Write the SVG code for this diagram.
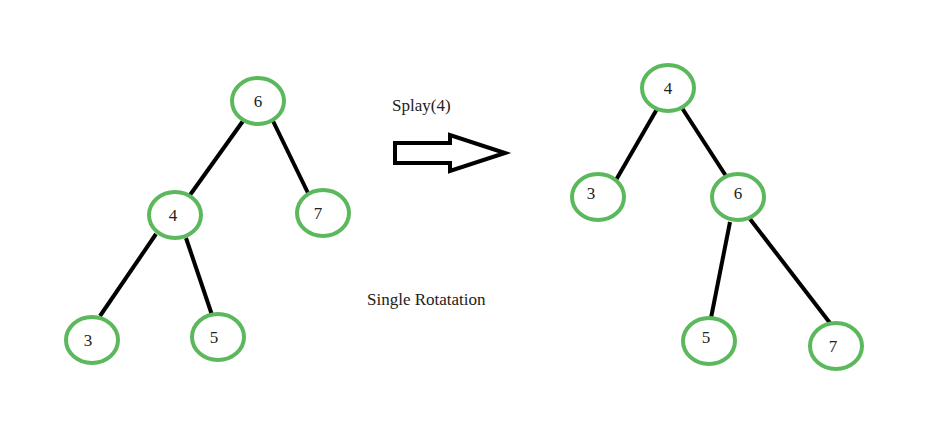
<svg xmlns="http://www.w3.org/2000/svg" width="936" height="424" viewBox="0 0 936 424">
<style>
.n ellipse{fill:#fff;stroke:#5cb85c;stroke-width:4}
.n text{font-family:"Liberation Serif",serif;font-size:17px;fill:#222;text-anchor:middle}
.e line{stroke:#000;stroke-width:4}
.t{font-family:"Liberation Serif",serif;font-size:17px;fill:#222}
</style>
<rect width="936" height="424" fill="#fff"/>
<g class="e" id="connectors">
<line x1="243" y1="121" x2="190" y2="195"/>
<line x1="273" y1="121" x2="308" y2="193"/>
<line x1="156" y1="234" x2="100" y2="316"/>
<line x1="186" y1="238" x2="212" y2="315"/>
<line x1="657" y1="109" x2="616" y2="180"/>
<line x1="682" y1="108" x2="726" y2="176"/>
<line x1="730" y1="222" x2="711" y2="318"/>
<line x1="750" y1="219" x2="830" y2="323"/>
</g>
<g class="n" id="L6"><ellipse cx="258" cy="101" rx="26" ry="23"/><text x="258" y="107">6</text></g>
<g class="n" id="L4"><ellipse cx="175" cy="215" rx="26" ry="23"/><text x="173" y="221">4</text></g>
<g class="n" id="L7"><ellipse cx="323" cy="213" rx="26" ry="23"/><text x="318" y="219">7</text></g>
<g class="n" id="L3"><ellipse cx="92" cy="340" rx="26" ry="23"/><text x="88" y="346">3</text></g>
<g class="n" id="L5"><ellipse cx="218" cy="337" rx="26" ry="23"/><text x="214" y="343">5</text></g>
<g class="n" id="R4"><ellipse cx="668" cy="88" rx="26" ry="23"/><text x="668" y="94">4</text></g>
<g class="n" id="R3"><ellipse cx="598" cy="197" rx="26" ry="23"/><text x="591" y="199">3</text></g>
<g class="n" id="R6"><ellipse cx="738" cy="197" rx="26" ry="23"/><text x="738" y="199">6</text></g>
<g class="n" id="R5"><ellipse cx="709" cy="341" rx="26" ry="23"/><text x="706" y="343">5</text></g>
<g class="n" id="R7"><ellipse cx="836" cy="346" rx="26" ry="23"/><text x="833" y="352">7</text></g>
<polygon points="395,143 450,143 450,135 505,153 450,171 450,163 395,163" fill="#fff" stroke="#000" stroke-width="4" stroke-linejoin="miter"/>
<text class="t" x="392" y="111">Splay(4)</text>
<text class="t" x="367" y="305">Single Rotatation</text>
</svg>
